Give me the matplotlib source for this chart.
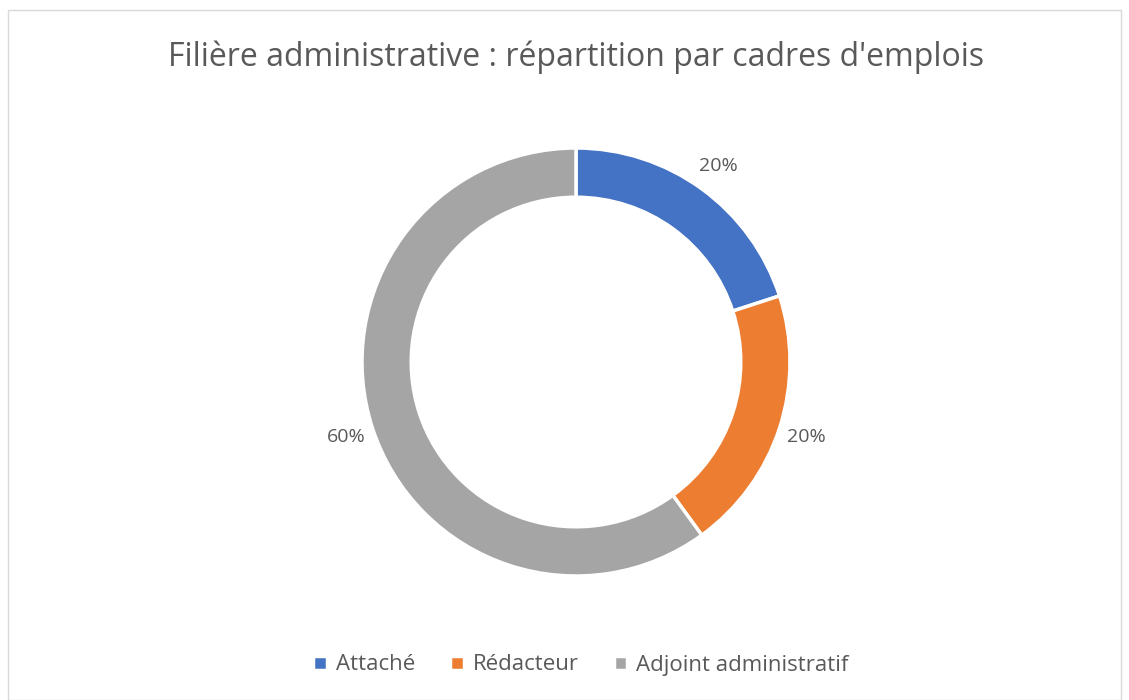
import matplotlib
matplotlib.use("Agg")
import matplotlib.pyplot as plt
from matplotlib.patches import Rectangle

plt.rcParams["font.family"] = ["Open Sans", "DejaVu Sans"]

TITLE = "Filière administrative : répartition par cadres d'emplois"
CATEGORIES = ["Attaché", "Rédacteur", "Adjoint administratif"]
VALUES = [20, 20, 60]
COLORS = ["#4472C4", "#ED7D31", "#A5A5A5"]

W, H = 1129, 700
fig = plt.figure(figsize=(W / 100, H / 100), dpi=100)
fig.patch.set_facecolor("white")

# cadre gris autour du graphique
fig.patches.append(Rectangle((8 / W, 0), (W - 16) / W, (H - 10) / H,
                             transform=fig.transFigure, fill=False,
                             edgecolor="#D9D9D9", linewidth=1))

fig.text(576 / W, 1 - 57 / H, TITLE, ha="center", va="center",
         fontsize=23, color="#595959")

# anneau
cx, cy, r = 576, 362, 214
ax = fig.add_axes([(cx - r) / W, (H - cy - r) / H, 2 * r / W, 2 * r / H])
wedges, _, autotexts = ax.pie(
    VALUES, colors=COLORS, startangle=90, counterclock=False,
    autopct="%1.0f%%", pctdistance=1.13,
    wedgeprops=dict(width=0.23, edgecolor="white", linewidth=2.5),
    textprops=dict(fontsize=14, color="#595959"))
ax.set_aspect("equal")
ax.set_xlim(-1, 1)
ax.set_ylim(-1, 1)

fig.legend(wedges, CATEGORIES, loc="center", bbox_to_anchor=(581 / W, 1 - 665 / H),
           ncol=3, frameon=False, fontsize=16, handlelength=0.6, handleheight=0.6,
           handletextpad=0.4, columnspacing=1.6, labelcolor="#595959")

fig.savefig("out.png", dpi=100, facecolor="white")
